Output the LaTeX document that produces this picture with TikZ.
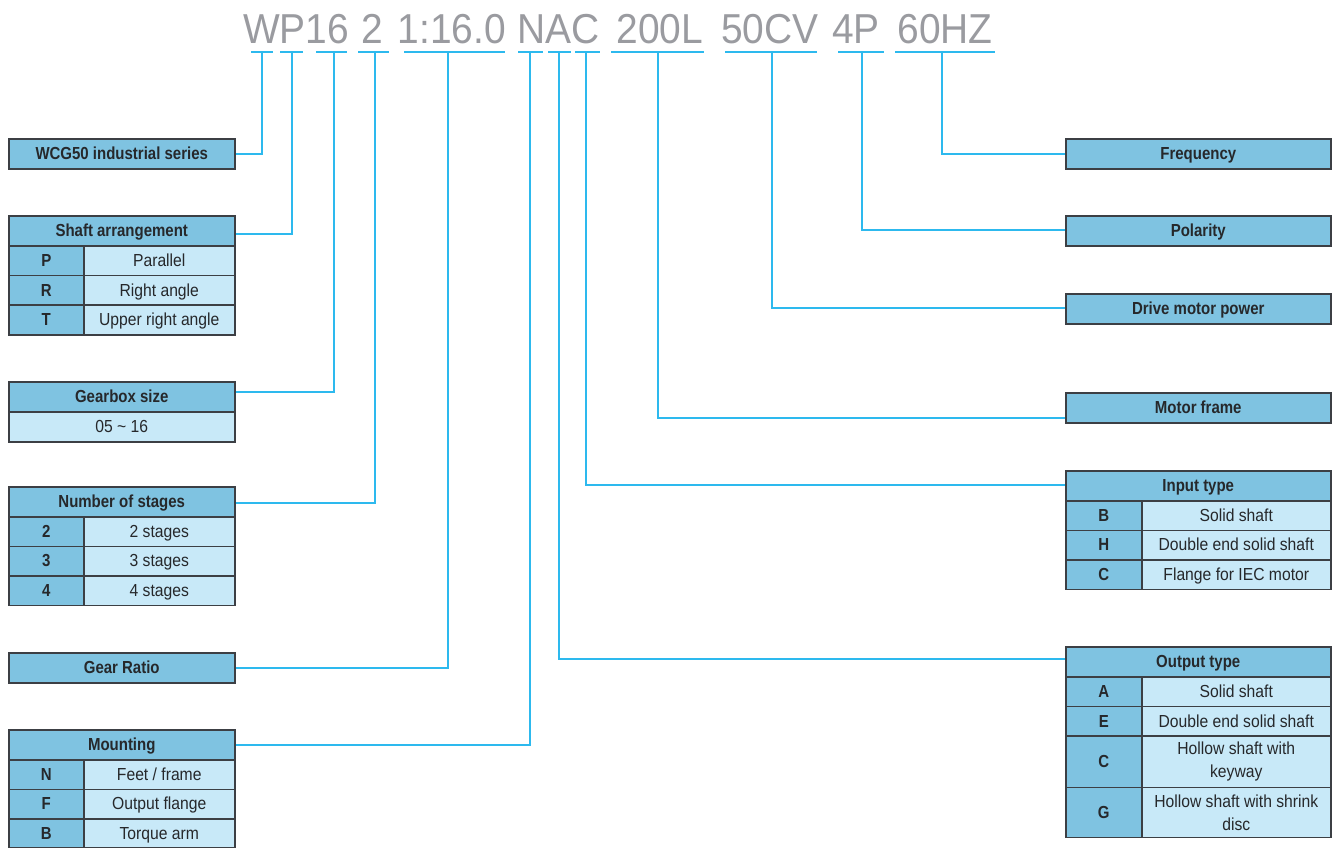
\documentclass[tikz,border=0pt]{standalone}
\usepackage{fontspec}
\setmainfont{Liberation Sans}[UprightFeatures={FakeStretch=0.9}, BoldFeatures={FakeStretch=0.86}]
\newfontfamily\codefont{Liberation Sans}[FakeStretch=0.93]
\definecolor{hdrc}{HTML}{7FC3E1}
\definecolor{valcol}{HTML}{C8E9F8}
\definecolor{bordc}{HTML}{3C3F44}
\definecolor{txtc}{HTML}{26282B}
\definecolor{linec}{HTML}{2DB9EE}
\definecolor{codec}{HTML}{9A9BA0}
\tikzset{
  cell/.style={draw=bordc, line width=1.5bp, inner sep=0pt, anchor=north west,
    text=txtc, align=center, text height=14pt, text depth=2pt,
    font=\fontsize{17.5}{23}\selectfont},
  multi/.style={text height=, text depth=},
  hdr/.style={cell, fill=hdrc, font=\bfseries\fontsize{17.5}{23}\selectfont},
  keycell/.style={cell, fill=hdrc, font=\bfseries\fontsize{17.5}{23}\selectfont},
  valcell/.style={cell, fill=valcol},
  conn/.style={draw=linec, line width=2bp},
  code/.style={font=\codefont\fontsize{42}{42}\selectfont, text=codec, inner sep=0pt, anchor=base}
}
\begin{document}
\begin{tikzpicture}[x=1bp,y=-1bp]
\useasboundingbox (0,0) rectangle (1339,847);
\fill[white] (0,0) rectangle (1339,847);

% code string
\node[code] (cWP) at (296,43.5) {WP16};
\node[code] (c2) at (372.5,43.5) {2};
\node[code] (cR) at (451.7,43.5) {1:16.0};
\node[code] (cNAC) at (558.5,43.5) {NAC};
\node[code] (c200) at (660,43.5) {200L};
\node[code] (c50) at (770,43.5) {50CV};
\node[code] (c4P) at (856,43.5) {4P};
\node[code] (c60) at (945,43.5) {60HZ};

% underline centres
\coordinate (uW) at (262,52);
\coordinate (uP) at (292,52);
\coordinate (u16) at (334,52);
\coordinate (u2) at (375,52);
\coordinate (uR) at (448,52);
\coordinate (uN) at (530,52);
\coordinate (uA) at (559,52);
\coordinate (uC) at (586,52);
\coordinate (u200) at (658,52);
\coordinate (u50) at (772,52);
\coordinate (u4P) at (862,52);
\coordinate (u60) at (942,52);

\draw[conn] (251,52) -- (273,52);
\draw[conn] (280,52) -- (303,52);
\draw[conn] (316,52) -- (347,52);
\draw[conn] (358,52) -- (389,52);
\draw[conn] (404,52) -- (505,52);
\draw[conn] (518,52) -- (543,52);
\draw[conn] (548,52) -- (571,52);
\draw[conn] (575,52) -- (600,52);
\draw[conn] (611,52) -- (704,52);
\draw[conn] (725,52) -- (817,52);
\draw[conn] (838,52) -- (884,52);
\draw[conn] (895,52) -- (995,52);

% ---------- left boxes ----------
\node[hdr, minimum width=226bp, minimum height=30bp] (wcg) at (8,138) {WCG50 industrial series};

\node[hdr, minimum width=226bp, minimum height=30bp] (shaft) at (8,215) {Shaft arrangement};
\node[keycell, minimum width=75bp, minimum height=29.7bp] (shP) at (8,245) {P};
\node[valcell, minimum width=151bp, minimum height=29.7bp] (shPv) at (83,245) {Parallel};
\node[keycell, minimum width=75bp, minimum height=29.7bp] (shR) at (8,274.7) {R};
\node[valcell, minimum width=151bp, minimum height=29.7bp] (shRv) at (83,274.7) {Right angle};
\node[keycell, minimum width=75bp, minimum height=29.7bp] (shT) at (8,304.4) {T};
\node[valcell, minimum width=151bp, minimum height=29.7bp] (shTv) at (83,304.4) {Upper right angle};

\node[hdr, minimum width=226bp, minimum height=30bp] (gear) at (8,381) {Gearbox size};
\node[valcell, minimum width=226bp, minimum height=30bp] (gearv) at (8,411) {05 \char`\~{} 16};

\node[hdr, minimum width=226bp, minimum height=30bp] (stages) at (8,486) {Number of stages};
\node[keycell, minimum width=75bp, minimum height=29.5bp] (st2) at (8,516) {2};
\node[valcell, minimum width=151bp, minimum height=29.5bp] (st2v) at (83,516) {2 stages};
\node[keycell, minimum width=75bp, minimum height=29.5bp] (st3) at (8,545.5) {3};
\node[valcell, minimum width=151bp, minimum height=29.5bp] (st3v) at (83,545.5) {3 stages};
\node[keycell, minimum width=75bp, minimum height=29.5bp] (st4) at (8,575) {4};
\node[valcell, minimum width=151bp, minimum height=29.5bp] (st4v) at (83,575) {4 stages};

\node[hdr, minimum width=226bp, minimum height=30bp] (ratio) at (8,652) {Gear Ratio};

\node[hdr, minimum width=226bp, minimum height=30bp] (mount) at (8,729) {Mounting};
\node[keycell, minimum width=75bp, minimum height=29.5bp] (mN) at (8,759) {N};
\node[valcell, minimum width=151bp, minimum height=29.5bp] (mNv) at (83,759) {Feet / frame};
\node[keycell, minimum width=75bp, minimum height=29.5bp] (mF) at (8,788.5) {F};
\node[valcell, minimum width=151bp, minimum height=29.5bp] (mFv) at (83,788.5) {Output flange};
\node[keycell, minimum width=75bp, minimum height=29bp] (mB) at (8,818) {B};
\node[valcell, minimum width=151bp, minimum height=29bp] (mBv) at (83,818) {Torque arm};

% ---------- right boxes ----------
\node[hdr, minimum width=265bp, minimum height=30bp] (freq) at (1065,138) {Frequency};
\node[hdr, minimum width=265bp, minimum height=30bp] (pol) at (1065,215) {Polarity};
\node[hdr, minimum width=265bp, minimum height=30bp] (drive) at (1065,293) {Drive motor power};
\node[hdr, minimum width=265bp, minimum height=30bp] (mframe) at (1065,392) {Motor frame};

\node[hdr, minimum width=265bp, minimum height=30bp] (input) at (1065,470) {Input type};
\node[keycell, minimum width=76bp, minimum height=29.5bp] (iB) at (1065,500) {B};
\node[valcell, minimum width=189bp, minimum height=29.5bp] (iBv) at (1141,500) {Solid shaft};
\node[keycell, minimum width=76bp, minimum height=29.5bp] (iH) at (1065,529.5) {H};
\node[valcell, minimum width=189bp, minimum height=29.5bp] (iHv) at (1141,529.5) {Double end solid shaft};
\node[keycell, minimum width=76bp, minimum height=29.5bp] (iC) at (1065,559) {C};
\node[valcell, minimum width=189bp, minimum height=29.5bp] (iCv) at (1141,559) {Flange for IEC motor};

\node[hdr, minimum width=265bp, minimum height=30bp] (output) at (1065,646) {Output type};
\node[keycell, minimum width=76bp, minimum height=29.7bp] (oA) at (1065,676) {A};
\node[valcell, minimum width=189bp, minimum height=29.7bp] (oAv) at (1141,676) {Solid shaft};
\node[keycell, minimum width=76bp, minimum height=29.7bp] (oE) at (1065,705.7) {E};
\node[valcell, minimum width=189bp, minimum height=29.7bp] (oEv) at (1141,705.7) {Double end solid shaft};
\node[keycell, minimum width=76bp, minimum height=51.5bp] (oC) at (1065,735.4) {C};
\node[valcell, multi, minimum width=189bp, minimum height=51.5bp] (oCv) at (1141,735.4) {Hollow shaft with\\keyway};
\node[keycell, minimum width=76bp, minimum height=50bp] (oG) at (1065,786.9) {G};
\node[valcell, multi, minimum width=189bp, minimum height=50bp] (oGv) at (1141,786.9) {Hollow shaft with shrink\\disc};

% ---------- connectors ----------
\draw[conn] (uW) |- (wcg.east);
\draw[conn] (uP) |- ([yshift=-3bp]shaft.east);
\draw[conn] (u16) |- ([yshift=5bp]gear.east);
\draw[conn] (u2) |- ([yshift=-1bp]stages.east);
\draw[conn] (uR) |- (ratio.east);
\draw[conn] (uN) |- (mount.east);
\draw[conn] (uA) |- ([yshift=3bp]output.west);
\draw[conn] (uC) |- ([yshift=1bp]input.west);
\draw[conn] (u200) |- ([yshift=-10bp]mframe.west);
\draw[conn] (u50) |- ([yshift=1bp]drive.west);
\draw[conn] (u4P) |- ([yshift=1bp]pol.west);
\draw[conn] (u60) |- (freq.west);
\end{tikzpicture}
\end{document}
